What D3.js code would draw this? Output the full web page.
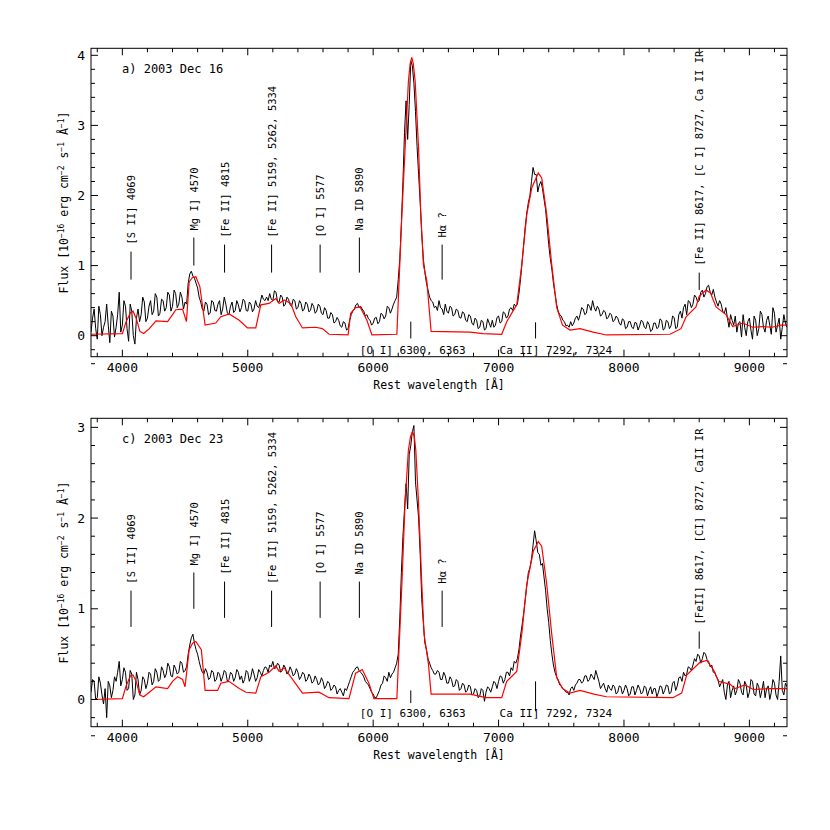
<!DOCTYPE html>
<html>
<head>
<meta charset="utf-8">
<script src="https://cdn.jsdelivr.net/npm/d3@7"></script>
<style>
  body { margin: 0; background: #fff; }
  text { font-family: 'DejaVu Sans Mono', monospace; fill: #000; }
</style>
</head>
<body>
<div id="chart"></div>
<script>
// data
// black spectra, sampled every 12.5 A from 3750 to 9300 (16 values = 200 A per row)
const waveStart = 3750
const waveStep = 12.5

const fluxDec16 = [
  0.05, 0.25, 0.38, 0.1, -0.05, 0.42, 0.3, 0.0, 0.12, 0.2, 0.45, 0.15, -0.1, 0.35, 0.28, -0.02,
  0.12, 0.3, 0.62, 0.05, 0.15, 0.5, 0.42, 0.1, -0.08, 0.45, 0.35, 0.0, -0.12, 0.25, 0.38, 0.2,
  0.3, 0.55, 0.48, 0.2, 0.25, 0.42, 0.5, 0.3, 0.35, 0.6, 0.55, 0.28, 0.32, 0.52, 0.5, 0.35,
  0.4, 0.62, 0.58, 0.35, 0.42, 0.65, 0.6, 0.4, 0.45, 0.62, 0.55, 0.38, 0.48, 0.45, 0.75, 0.88,
  0.92, 0.85, 0.82, 0.75, 0.68, 0.55, 0.48, 0.38, 0.35, 0.48, 0.45, 0.3, 0.32, 0.5, 0.48, 0.36,
  0.35, 0.45, 0.5, 0.3, 0.38, 0.55, 0.45, 0.32, 0.3, 0.42, 0.48, 0.33, 0.36, 0.5, 0.44, 0.34,
  0.4, 0.52, 0.5, 0.36, 0.35, 0.48, 0.45, 0.34, 0.38, 0.5, 0.42, 0.4, 0.48, 0.58, 0.52, 0.5,
  0.55, 0.5, 0.6, 0.52, 0.5, 0.64, 0.62, 0.48, 0.48, 0.58, 0.55, 0.42, 0.45, 0.55, 0.52, 0.44,
  0.42, 0.52, 0.5, 0.38, 0.4, 0.5, 0.46, 0.35, 0.38, 0.48, 0.45, 0.34, 0.36, 0.46, 0.42, 0.32,
  0.35, 0.45, 0.42, 0.32, 0.3, 0.4, 0.36, 0.25, 0.25, 0.33, 0.3, 0.18, 0.2, 0.26, 0.22, 0.14,
  0.12, 0.2, 0.18, 0.08, 0.1, 0.22, 0.3, 0.35, 0.38, 0.44, 0.46, 0.4, 0.42, 0.38, 0.35, 0.28,
  0.3, 0.24, 0.22, 0.15, 0.18, 0.25, 0.26, 0.17, 0.2, 0.32, 0.3, 0.24, 0.28, 0.42, 0.4, 0.32,
  0.38, 0.45, 0.5, 0.55, 0.8, 1.1, 1.6, 2.2, 2.9, 3.35, 2.8, 3.3, 3.92, 3.85, 3.6, 3.2,
  2.7, 2.3, 1.9, 1.45, 1.1, 0.9, 0.75, 0.65, 0.55, 0.5, 0.48, 0.4, 0.42, 0.36, 0.5, 0.4,
  0.38, 0.3, 0.45, 0.35, 0.32, 0.42, 0.4, 0.28, 0.3, 0.38, 0.36, 0.26, 0.25, 0.34, 0.32, 0.22,
  0.2, 0.3, 0.28, 0.18, 0.15, 0.25, 0.22, 0.1, 0.12, 0.22, 0.2, 0.08, 0.1, 0.24, 0.18, 0.12,
  0.22, 0.12, 0.15, 0.26, 0.28, 0.18, 0.2, 0.34, 0.32, 0.25, 0.28, 0.38, 0.4, 0.36, 0.45, 0.42,
  0.45, 0.6, 0.8, 1.05, 1.3, 1.55, 1.75, 1.9, 2.0, 2.2, 2.4, 2.3, 2.3, 2.05, 2.15, 2.2,
  2.1, 1.95, 1.8, 1.55, 1.3, 1.1, 0.95, 0.75, 0.6, 0.45, 0.35, 0.3, 0.28, 0.22, 0.2, 0.14,
  0.15, 0.12, 0.2, 0.14, 0.18, 0.25, 0.28, 0.22, 0.3, 0.4, 0.38, 0.3, 0.32, 0.45, 0.42, 0.36,
  0.5, 0.4, 0.35, 0.42, 0.38, 0.28, 0.3, 0.36, 0.34, 0.24, 0.26, 0.32, 0.3, 0.2, 0.22, 0.28,
  0.25, 0.18, 0.15, 0.24, 0.22, 0.1, 0.12, 0.2, 0.2, 0.12, 0.1, 0.19, 0.18, 0.08, 0.14, 0.22,
  0.2, 0.12, 0.1, 0.2, 0.16, 0.06, 0.08, 0.18, 0.18, 0.1, 0.12, 0.24, 0.22, 0.08, 0.1, 0.22,
  0.2, 0.1, 0.14, 0.28, 0.26, 0.1, 0.12, 0.3, 0.35, 0.25, 0.4, 0.45, 0.3, 0.5, 0.48, 0.4,
  0.45, 0.58, 0.55, 0.48, 0.5, 0.62, 0.65, 0.55, 0.6, 0.7, 0.72, 0.62, 0.58, 0.66, 0.55, 0.48,
  0.42, 0.5, 0.45, 0.35, 0.32, 0.4, 0.25, 0.12, 0.3, 0.22, 0.15, 0.28, 0.05, 0.18, 0.2, -0.02,
  0.3, 0.12, 0.0, 0.2, 0.25, 0.08, -0.05, 0.28, 0.22, 0.0, 0.1, 0.35, 0.3, 0.12, 0.05, 0.22,
  0.28, 0.15, 0.02, 0.4, 0.32, 0.05, 0.15, 0.25, -0.05, 0.12, 0.3, 0.18, 0.12
]

const fluxDec23 = [
  0.08, 0.22, 0.2, 0.0, 0.02, 0.25, 0.18, 0.05, -0.05, 0.12, -0.2, 0.2, 0.15, 0.02, 0.1, 0.25,
  0.2, 0.3, 0.42, 0.15, 0.22, 0.35, 0.3, 0.1, 0.12, 0.32, 0.28, 0.0, 0.05, 0.3, 0.22, 0.05,
  0.1, 0.25, 0.22, 0.12, 0.18, 0.3, 0.28, 0.16, 0.2, 0.34, 0.3, 0.2, 0.22, 0.36, 0.32, 0.24,
  0.28, 0.4, 0.36, 0.26, 0.25, 0.38, 0.34, 0.28, 0.3, 0.42, 0.4, 0.3, 0.32, 0.36, 0.5, 0.6,
  0.68, 0.72, 0.62, 0.55, 0.5, 0.42, 0.35, 0.3, 0.28, 0.34, 0.3, 0.22, 0.24, 0.32, 0.3, 0.2,
  0.22, 0.3, 0.28, 0.2, 0.25, 0.32, 0.3, 0.2, 0.22, 0.3, 0.28, 0.2, 0.24, 0.33, 0.3, 0.22,
  0.26, 0.18, 0.22, 0.32, 0.3, 0.2, 0.25, 0.34, 0.28, 0.2, 0.24, 0.33, 0.3, 0.26, 0.32, 0.36,
  0.35, 0.3, 0.38, 0.36, 0.42, 0.34, 0.35, 0.4, 0.38, 0.3, 0.32, 0.38, 0.35, 0.28, 0.3, 0.36,
  0.32, 0.26, 0.28, 0.34, 0.3, 0.22, 0.25, 0.3, 0.28, 0.2, 0.22, 0.28, 0.25, 0.18, 0.2, 0.26,
  0.22, 0.16, 0.18, 0.24, 0.2, 0.12, 0.15, 0.2, 0.18, 0.1, 0.12, 0.16, 0.14, 0.06, 0.1, 0.12,
  0.08, 0.04, 0.12, 0.1, 0.15, 0.2, 0.25, 0.3, 0.32, 0.35, 0.36, 0.32, 0.3, 0.28, 0.25, 0.2,
  0.18, 0.16, 0.12, 0.08, 0.06, 0.02, 0.02, 0.06, 0.1, 0.16, 0.18, 0.26, 0.24, 0.2, 0.3, 0.24,
  0.28, 0.3, 0.35, 0.4, 0.5, 0.9, 1.4, 1.8, 2.1, 2.38, 2.1, 2.7, 2.8, 2.95, 3.02, 2.4,
  2.2, 2.0, 1.6, 1.1, 0.85, 0.62, 0.55, 0.45, 0.4, 0.35, 0.32, 0.28, 0.28, 0.32, 0.3, 0.22,
  0.22, 0.3, 0.26, 0.18, 0.18, 0.25, 0.22, 0.14, 0.15, 0.22, 0.2, 0.1, 0.12, 0.18, 0.16, 0.08,
  0.1, 0.16, 0.14, 0.05, 0.06, 0.12, 0.1, 0.02, 0.04, 0.12, 0.1, -0.02, 0.08, 0.14, 0.12, 0.08,
  0.14, 0.2, 0.18, 0.12, 0.2, 0.26, 0.25, 0.18, 0.22, 0.3, 0.3, 0.26, 0.35, 0.32, 0.42, 0.4,
  0.45, 0.55, 0.7, 0.82, 0.95, 1.1, 1.25, 1.4, 1.45, 1.55, 1.7, 1.86, 1.75, 1.62, 1.6, 1.48,
  1.5, 1.35, 1.2, 1.0, 0.85, 0.65, 0.5, 0.38, 0.3, 0.25, 0.22, 0.16, 0.15, 0.12, 0.1, 0.08,
  0.08, 0.05, 0.12, 0.14, 0.1, 0.16, 0.18, 0.22, 0.22, 0.18, 0.2, 0.26, 0.26, 0.2, 0.22, 0.28,
  0.25, 0.22, 0.32, 0.26, 0.2, 0.12, 0.15, 0.18, 0.12, 0.08, 0.16, 0.12, 0.1, 0.16, 0.14, 0.06,
  0.08, 0.15, 0.14, 0.06, 0.1, 0.16, 0.12, 0.04, 0.06, 0.14, 0.14, 0.05, 0.1, 0.16, 0.12, 0.06,
  0.08, 0.15, 0.13, 0.04, 0.1, 0.14, 0.06, 0.12, 0.12, 0.03, 0.08, 0.15, 0.14, 0.06, 0.1, 0.16,
  0.15, 0.06, 0.08, 0.18, 0.2, 0.1, 0.15, 0.24, 0.25, 0.2, 0.3, 0.26, 0.28, 0.36, 0.35, 0.32,
  0.38, 0.45, 0.42, 0.5, 0.48, 0.4, 0.45, 0.52, 0.5, 0.44, 0.42, 0.36, 0.38, 0.3, 0.3, 0.25,
  0.22, 0.14, 0.18, 0.22, 0.08, 0.0, 0.16, 0.2, 0.02, 0.1, 0.15, 0.05, 0.1, 0.22, 0.18, 0.08,
  0.05, 0.2, 0.16, 0.02, 0.08, 0.22, 0.2, 0.06, 0.04, 0.18, 0.14, 0.02, 0.1, 0.2, 0.02, 0.12,
  0.15, 0.0, 0.08, 0.22, 0.18, 0.05, 0.0, 0.2, 0.48, 0.1, 0.05, 0.18, 0.14
]

// red model spectra
const modelWaveDec16 = [3750, 4000, 4030, 4066, 4085, 4110, 4140, 4170, 4215, 4268, 4361, 4400, 4427, 4480, 4511,
  4533, 4560, 4586, 4618, 4660, 4745, 4785, 4852, 4932, 4998, 5064, 5104, 5170, 5223, 5250, 5290, 5343,
  5383, 5436, 5542, 5595, 5648, 5800, 5821, 5860, 5896, 5950, 5990, 6189, 6229, 6255, 6281, 6295, 6308,
  6320, 6335, 6362, 6380, 6401, 6428, 6462, 6773, 6876, 7025, 7065, 7145, 7185, 7225, 7265, 7317, 7344,
  7384, 7424, 7464, 7510, 7570, 7650, 7754, 7860, 8367, 8455, 8495, 8574, 8600, 8654, 8690, 8734, 8814,
  8867, 8947, 9027, 9107, 9180, 9253, 9300]
const modelFluxDec16 = [0.02, 0.03, 0.2, 0.33, 0.35, 0.25, 0.06, 0.03, 0.1, 0.21, 0.2, 0.3, 0.37, 0.38, 0.2,
  0.77, 0.83, 0.84, 0.7, 0.15, 0.18, 0.27, 0.31, 0.22, 0.11, 0.11, 0.44, 0.46, 0.53, 0.46, 0.51, 0.46,
  0.27, 0.11, 0.12, 0.1, 0.02, 0.01, 0.32, 0.4, 0.41, 0.22, 0.01, 0.02, 1.73, 2.68, 3.63, 3.88, 3.97,
  3.88, 3.63, 2.68, 1.73, 1.01, 0.78, 0.06, 0.05, 0.03, 0.02, 0.2, 0.44, 1.01, 1.73, 2.11, 2.32, 2.25,
  1.73, 1.01, 0.4, 0.15, 0.08, 0.1, 0.05, 0.01, 0.02, 0.1, 0.27, 0.41, 0.56, 0.65, 0.61, 0.41, 0.3,
  0.13, 0.18, 0.12, 0.13, 0.12, 0.15, 0.15]

const modelWaveDec23 = [3750, 4000, 4030, 4064, 4085, 4110, 4140, 4170, 4215, 4268, 4361, 4400, 4440, 4480, 4500,
  4533, 4560, 4586, 4630, 4660, 4760, 4785, 4850, 4932, 4985, 5064, 5104, 5170, 5223, 5250, 5290, 5343,
  5436, 5568, 5648, 5807, 5860, 5913, 5966, 6006, 6189, 6229, 6255, 6281, 6298, 6313, 6328, 6340, 6361,
  6388, 6406, 6441, 6462, 6773, 6900, 7025, 7065, 7145, 7185, 7225, 7278, 7317, 7344, 7384, 7424, 7464,
  7510, 7570, 7650, 7760, 7860, 8390, 8460, 8500, 8606, 8660, 8713, 8753, 8845, 8885, 8965, 9031, 9150, 9300]
const modelFluxDec23 = [0.0, 0.01, 0.15, 0.26, 0.27, 0.2, 0.05, 0.03, 0.08, 0.14, 0.12, 0.2, 0.25, 0.22, 0.14,
  0.55, 0.62, 0.64, 0.55, 0.1, 0.1, 0.18, 0.2, 0.12, 0.08, 0.07, 0.25, 0.3, 0.37, 0.31, 0.35, 0.25,
  0.07, 0.08, 0.02, 0.01, 0.29, 0.33, 0.18, 0.01, 0.01, 1.27, 2.19, 2.75, 2.9, 2.95, 2.9, 2.75, 2.19,
  1.27, 0.72, 0.39, 0.06, 0.06, 0.02, 0.02, 0.2, 0.31, 0.72, 1.27, 1.64, 1.74, 1.69, 1.27, 0.72, 0.24,
  0.12, 0.07, 0.1, 0.06, 0.03, 0.02, 0.07, 0.27, 0.41, 0.43, 0.33, 0.2, 0.17, 0.12, 0.16, 0.11, 0.12, 0.12]

// line identifications above the spectrum
const lineWaves = [4069, 4570, 4815, 5190, 5577, 5890, 6550, 8600]
const lineNamesDec16 = ['[S II] 4069', 'Mg I] 4570', '[Fe II] 4815', '[Fe II] 5159, 5262, 5334',
  '[O I] 5577', 'Na ID 5890', 'H\u03b1 ?', '[Fe II] 8617, [C I] 8727, Ca II IR']
const lineNamesDec23 = ['[S II] 4069', 'Mg I] 4570', '[Fe II] 4815', '[Fe II] 5159, 5262, 5334',
  '[O I] 5577', 'Na ID 5890', 'H\u03b1 ?', '[FeII] 8617, [CI] 8727, CaII IR']
const lineLowDec16 = [0.8, 1.0, 0.9, 0.9, 0.9, 0.9, 0.8, 0.65]
const lineHighDec16 = [1.2, 1.4, 1.3, 1.3, 1.3, 1.4, 1.3, 0.9]
const lineLowDec23 = [0.8, 1.0, 0.9, 0.8, 0.9, 0.9, 0.8, 0.56]
const lineHighDec23 = [1.2, 1.4, 1.3, 1.2, 1.3, 1.3, 1.2, 0.75]

// line identifications below the spectrum
const lowerWaves = [6300, 7295]
const lowerNames = ['[O I] 6300, 6363', 'Ca II] 7292, 7324']
const lowerTopDec16 = [0.2, 0.19]
const lowerBotDec16 = [-0.04, -0.04]
const lowerTopDec23 = [0.1, 0.2]
const lowerBotDec23 = [-0.04, -0.13]

const panelTitles = ['a) 2003 Dec 16', 'c) 2003 Dec 23']
const xTickValues = [4000, 5000, 6000, 7000, 8000, 9000]

if (fluxDec16.length !== 445 || fluxDec23.length !== 445) {
  console.error('flux length', fluxDec16.length, fluxDec23.length)
}

//dimensions
const width = 830, height = 830
const left = 91, right = 787

const svg = d3.select('#chart').append('svg')
  .attr('width', width)
  .attr('height', height)

svg.append('rect').attr('width', width).attr('height', height).attr('fill', '#fff')

const x = d3.scaleLinear().domain([3750, 9300]).range([left, right])

const panels = [
  { top: 48.3, bottom: 356.7, yMax: 4.1, title: panelTitles[0], flux: fluxDec16,
    mWave: modelWaveDec16, mFlux: modelFluxDec16, names: lineNamesDec16,
    low: lineLowDec16, high: lineHighDec16, lTop: lowerTopDec16, lBot: lowerBotDec16 },
  { top: 418.3, bottom: 726.7, yMax: 3.1, title: panelTitles[1], flux: fluxDec23,
    mWave: modelWaveDec23, mFlux: modelFluxDec23, names: lineNamesDec23,
    low: lineLowDec23, high: lineHighDec23, lTop: lowerTopDec23, lBot: lowerBotDec23 }
]

panels.forEach((p, k) => {
  const y = d3.scaleLinear().domain([-0.3, p.yMax]).range([p.bottom, p.top])
  const g = svg.append('g')

  const clipId = 'clip' + k
  g.append('clipPath').attr('id', clipId)
    .append('rect').attr('x', left).attr('y', p.top)
    .attr('width', right - left).attr('height', p.bottom - p.top)

  //model (red) and observed spectrum (black)
  const model = p.mWave.map((w, i) => [w, p.mFlux[i]])
  const obs = p.flux.map((f, i) => [waveStart + i * waveStep, f])
  const line = d3.line().x(d => x(d[0])).y(d => y(d[1]))

  g.append('path').datum(obs)
    .attr('clip-path', `url(#${clipId})`)
    .attr('fill', 'none').attr('stroke', '#000').attr('stroke-width', 1)
    .attr('d', line)

  g.append('path').datum(model)
    .attr('clip-path', `url(#${clipId})`)
    .attr('fill', 'none').attr('stroke', '#ff0000').attr('stroke-width', 1.2)
    .attr('d', line)

  //frame and ticks
  g.append('rect')
    .attr('x', left).attr('y', p.top)
    .attr('width', right - left).attr('height', p.bottom - p.top)
    .attr('fill', 'none').attr('stroke', '#000').attr('stroke-width', 1)

  const ticks = g.append('g').attr('stroke', '#000').attr('stroke-width', 1)
  const xMinor = d3.range(3800, 9300, 200).filter(v => v % 1000 !== 0)
  xMinor.concat(xTickValues).forEach(v => {
    const len = v % 1000 === 0 ? 7 : 4
    ticks.append('line').attr('x1', x(v)).attr('x2', x(v)).attr('y1', p.bottom).attr('y2', p.bottom - len)
    ticks.append('line').attr('x1', x(v)).attr('x2', x(v)).attr('y1', p.top).attr('y2', p.top + len)
  })
  const yTicks = d3.range(-2, Math.floor(p.yMax * 5) + 1).map(v => v / 5)
  yTicks.forEach(v => {
    const major = Math.abs(v - Math.round(v)) < 1e-6
    const len = major ? 7 : 4
    ticks.append('line').attr('x1', left).attr('x2', left + len).attr('y1', y(v)).attr('y2', y(v))
    ticks.append('line').attr('x1', right).attr('x2', right - len).attr('y1', y(v)).attr('y2', y(v))
  })

  //tick labels
  g.selectAll('.xl').data(xTickValues).join('text')
    .attr('x', d => x(d)).attr('y', p.bottom + 15)
    .attr('text-anchor', 'middle').attr('font-size', 13)
    .text(d => d)
  const yMajor = d3.range(0, Math.floor(p.yMax) + 1)
  g.selectAll('.yl').data(yMajor).join('text')
    .attr('x', left - 6).attr('y', d => y(d) + 4.5)
    .attr('text-anchor', 'end').attr('font-size', 13)
    .text(d => d)

  //axis titles
  g.append('text')
    .attr('x', (left + right) / 2).attr('y', p.bottom + 32)
    .attr('text-anchor', 'middle').attr('font-size', 11.5)
    .text('Rest wavelength [\u00c5]')

  const yt = g.append('text')
    .attr('transform', `translate(68,${(p.top + p.bottom) / 2}) rotate(-90)`)
    .attr('text-anchor', 'middle').attr('font-size', 11.5)
  const parts = [['Flux [10', false], ['\u221216', true], [' erg cm', false], ['\u22122', true],
    [' s', false], ['\u22121', true], [' \u00c5', false], ['\u22121', true], [']', false]]
  parts.forEach(([t, sup]) => {
    const s = yt.append('tspan').text(t)
    if (sup) s.attr('baseline-shift', 'super').attr('font-size', 8)
  })

  //panel title
  g.append('text')
    .attr('x', 122).attr('y', p.top + 25)
    .attr('font-size', 12)
    .text(p.title)

  //line ids above the spectrum
  const ids = g.append('g')
  lineWaves.forEach((w, i) => {
    ids.append('line')
      .attr('x1', x(w)).attr('x2', x(w))
      .attr('y1', y(p.high[i])).attr('y2', y(p.low[i]))
      .attr('stroke', '#000').attr('stroke-width', 1)
    ids.append('text')
      .attr('transform', `translate(${x(w) + 4},${y(p.high[i]) - 7}) rotate(-90)`)
      .attr('font-size', 10.5)
      .text(p.names[i])
  })

  //line ids below the spectrum
  const textShift = [-51, -36]
  lowerWaves.forEach((w, i) => {
    ids.append('line')
      .attr('x1', x(w)).attr('x2', x(w))
      .attr('y1', y(p.lTop[i])).attr('y2', y(p.lBot[i]))
      .attr('stroke', '#000').attr('stroke-width', 1)
    ids.append('text')
      .attr('x', x(w) + textShift[i]).attr('y', y(0) + 18)
      .attr('font-size', 11)
      .text(lowerNames[i])
  })
})
</script>
</body>
</html>
